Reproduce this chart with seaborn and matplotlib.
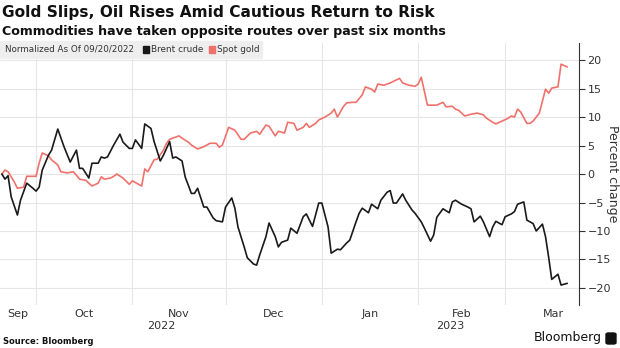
import pandas as pd
import matplotlib
matplotlib.use("Agg")
import matplotlib.pyplot as plt
import matplotlib.dates as mdates
from matplotlib.transforms import blended_transform_factory
from matplotlib.patches import Rectangle, FancyBboxPatch
import seaborn as sns

# Percent change in price since the base date, sampled by calendar day offset
base_date = pd.Timestamp("2022-09-20")

oil_day = [0, 1, 2, 3, 5, 6, 8, 10, 11, 12, 13, 15, 16, 18, 20, 22, 24, 25, 26, 28,
           29, 31, 32, 33, 34, 36, 38, 39, 41, 42, 43, 45, 46, 48, 49, 51, 52, 54, 55, 56,
           58, 59, 61, 62, 63, 65, 66, 68, 69, 71, 72, 74, 75, 76, 78, 79, 81, 82, 83, 85,
           86, 88, 89, 90, 92, 93, 95, 97, 98, 99, 100, 102, 103, 105, 106, 108, 109, 111, 112, 114,
           115, 116, 118, 119, 121, 122, 124, 125, 126, 127, 129, 130, 132, 133, 135, 136, 138, 139, 140, 142,
           144, 145, 146, 148, 150, 151, 152, 154, 155, 157, 158, 159, 161, 162, 164, 165, 166, 168, 169, 171,
           172, 174, 175, 176, 177, 179, 180, 182]
oil_pct = [0.0, -0.9, -0.3, -4.0, -7.2, -4.6, -1.6, -2.5, -3.0, -2.3, 0.7, 3.3, 4.2, 7.9, 4.8, 2.1, 4.2, 1.0, 1.0, -0.7,
           1.9, 1.9, 3.0, 2.8, 3.0, 5.1, 7.0, 5.6, 4.5, 4.5, 6.0, 4.5, 8.8, 8.0, 5.7, 2.3, 3.3, 5.7, 2.8, 3.0,
           2.3, -0.5, -3.4, -3.4, -2.5, -5.8, -5.8, -7.7, -8.2, -8.4, -5.8, -4.2, -6.0, -9.3, -12.8, -14.7, -15.8, -16.0, -14.2, -11.0,
           -8.6, -11.0, -12.8, -12.0, -11.6, -9.5, -10.4, -7.5, -7.0, -8.1, -9.2, -5.1, -5.1, -9.3, -13.9, -13.2, -13.3, -12.1, -11.6, -8.4,
           -6.9, -6.0, -6.8, -5.3, -6.1, -4.6, -3.2, -2.9, -5.1, -5.1, -3.5, -4.6, -6.3, -6.9, -8.4, -9.5, -11.8, -10.7, -7.6, -6.1,
           -6.8, -4.9, -4.6, -5.3, -5.8, -6.1, -8.4, -7.4, -8.4, -11.0, -9.3, -8.3, -8.9, -7.5, -7.0, -6.6, -5.3, -4.9, -8.1, -8.7,
           -10.0, -8.8, -11.0, -14.6, -18.5, -17.6, -19.5, -19.2]

gold_day = [0, 1, 2, 4, 5, 7, 8, 10, 11, 12, 13, 15, 16, 18, 19, 21, 23, 24, 25, 27,
            28, 29, 31, 32, 33, 35, 36, 37, 39, 41, 42, 44, 45, 46, 47, 49, 50, 52, 53, 54,
            55, 57, 58, 60, 61, 63, 65, 67, 69, 70, 71, 73, 75, 77, 78, 80, 82, 83, 85, 86,
            88, 89, 91, 92, 94, 95, 97, 98, 99, 101, 102, 104, 106, 107, 108, 110, 111, 113, 114, 116,
            117, 119, 120, 121, 123, 125, 128, 129, 131, 133, 134, 135, 137, 140, 142, 143, 145, 146, 147, 149,
            151, 153, 155, 156, 158, 159, 161, 163, 164, 165, 166, 167, 169, 170, 171, 173, 175, 176, 177, 179,
            180, 182]
gold_pct = [0.0, 0.7, 0.4, -1.4, -2.5, -2.3, -0.4, -0.4, -0.4, 1.9, 3.7, 3.2, 2.5, 1.6, 0.4, 0.2, 0.4, -0.2, -0.9, -1.1,
            -1.6, -2.1, -1.6, -0.5, -0.9, -0.7, -0.4, 0.0, -0.7, -1.8, -1.2, -1.8, -2.1, 0.9, 0.4, 2.5, 2.6, 4.2, 5.4, 6.1,
            6.3, 6.7, 6.3, 5.6, 5.1, 4.4, 4.8, 5.4, 5.4, 4.7, 5.1, 8.2, 7.7, 6.1, 6.1, 7.2, 7.5, 7.0, 8.6, 8.4,
            6.7, 7.5, 7.2, 9.1, 8.9, 7.7, 8.2, 8.9, 8.2, 8.9, 9.5, 10.0, 10.7, 11.4, 10.0, 11.9, 12.5, 12.6, 12.6, 13.9,
            15.3, 14.9, 14.4, 15.8, 15.6, 16.0, 16.8, 16.0, 15.6, 15.4, 15.8, 17.0, 12.1, 12.1, 12.6, 11.8, 11.9, 11.4, 11.2, 10.2,
            10.5, 10.7, 10.4, 9.8, 9.1, 8.8, 9.3, 9.8, 10.2, 10.0, 11.4, 10.9, 8.9, 8.9, 9.3, 10.7, 14.9, 14.2, 15.1, 15.3,
            19.3, 18.8]

series_names = ["Brent crude", "Spot gold"]
series_colors = {"Brent crude": "#1a1a1a", "Spot gold": "#f0716c"}
month_labels = ["Sep", "Oct", "Nov", "Dec", "Jan", "Feb", "Mar"]
year_labels = ["2022", "2023"]
y_ticks = [-20, -15, -10, -5, 0, 5, 10, 15, 20]

title = "Gold Slips, Oil Rises Amid Cautious Return to Risk"
subtitle = "Commodities have taken opposite routes over past six months"
legend_note = "Normalized As Of 09/20/2022"
source = "Source: Bloomberg"

df = pd.concat([
    pd.DataFrame({"date": base_date + pd.to_timedelta(oil_day, unit="D"),
                  "pct": oil_pct, "series": series_names[0]}),
    pd.DataFrame({"date": base_date + pd.to_timedelta(gold_day, unit="D"),
                  "pct": gold_pct, "series": series_names[1]}),
], ignore_index=True)

sns.set_theme(style="white")
plt.rcParams["font.family"] = ["DejaVu Sans"]
text_color = "#333333"

fig = plt.figure(figsize=(6.2, 3.48), dpi=100)
ax = fig.add_axes([0.0, 0.1236, 0.934, 0.7526])

sns.lineplot(data=df, x="date", y="pct", hue="series",
             hue_order=[series_names[1], series_names[0]],
             palette=series_colors, linewidth=1.2, legend=False, ax=ax)

x_min = base_date - pd.Timedelta(days=0.6)
x_max = base_date + pd.Timedelta(days=185.8)
ax.set_xlim(x_min, x_max)
ax.set_ylim(-23, 23)

# Grid: month boundaries vertically, every 5 points horizontally
ax.xaxis.set_major_locator(mdates.MonthLocator())
ax.xaxis.set_major_formatter(plt.NullFormatter())
ax.set_yticks(y_ticks)
ax.grid(True, which="major", color="#e6e6e6", linewidth=0.8)
ax.set_axisbelow(True)

# Month names centred on each month (the partial first month on its visible part)
month_starts = list(pd.date_range("2022-10-01", "2023-04-01", freq="MS"))
mids = [x_min + (month_starts[0] - x_min) / 2]
mids += [month_starts[i] + (month_starts[i + 1] - month_starts[i]) / 2
         for i in range(len(month_starts) - 1)]
ax.set_xticks(mids, minor=True)
ax.set_xticklabels(month_labels, minor=True)
ax.tick_params(axis="x", which="both", length=0, pad=3, labelsize=8, labelcolor=text_color)
ax.set_xlabel("")

# Years centred under their span
year_split = pd.Timestamp("2023-01-01")
year_mids = [x_min + (year_split - x_min) / 2, year_split + (x_max - year_split) / 2]
tr = blended_transform_factory(ax.transData, fig.transFigure)
for xm, lab in zip(year_mids, year_labels):
    ax.text(xm, 1 - 326 / 348, lab, transform=tr, ha="center", va="center",
            fontsize=8, color=text_color)

# Right-hand value axis
ax.yaxis.tick_right()
ax.yaxis.set_label_position("right")
ax.tick_params(axis="y", which="major", direction="out", length=4, width=0.8,
               color=text_color, pad=2, labelsize=8, labelcolor=text_color, right=True, left=False)
ax.set_ylabel("Percent change", rotation=270, fontsize=9, color=text_color, labelpad=6)
for side in ["left", "top", "bottom"]:
    ax.spines[side].set_visible(False)
ax.spines["right"].set_color(text_color)
ax.spines["right"].set_linewidth(0.8)

# Titles
fig.text(0.004, 1 - 12 / 348, title, fontsize=11.1, fontweight="bold", color="#111111", va="center")
fig.text(0.004, 1 - 31 / 348, subtitle, fontsize=9.1, fontweight="bold", color="#111111", va="center")

# Legend strip
fig.patches.append(Rectangle((0, 1 - 58 / 348), 262 / 620, 17 / 348,
                             transform=fig.transFigure, color="#eeeeee", zorder=0))
ly = 1 - 49.5 / 348
fig.text(5 / 620, ly, legend_note, fontsize=6.3, color=text_color, va="center")
for (sx, tx), name in zip([(143, 151), (209, 217)], series_names):
    fig.patches.append(Rectangle((sx / 620, ly - 3 / 348), 6 / 620, 6 / 348,
                                 transform=fig.transFigure, color=series_colors[name], zorder=1))
    fig.text(tx / 620, ly, name, fontsize=6.4, color=text_color, va="center")

# Footer
fig.text(3 / 620, 1 - 341 / 348, source, fontsize=6, fontweight="bold", color="#111111", va="center")
fig.text(602 / 620, 1 - 338 / 348, "Bloomberg", fontsize=9, color="#111111", va="center", ha="right")
fig.patches.append(FancyBboxPatch((606 / 620, 1 - 344 / 348), 10 / 620, 11 / 348,
                                  boxstyle="round,pad=0,rounding_size=0.004",
                                  transform=fig.transFigure, color="#111111"))

fig.savefig("out.png", dpi=100)
